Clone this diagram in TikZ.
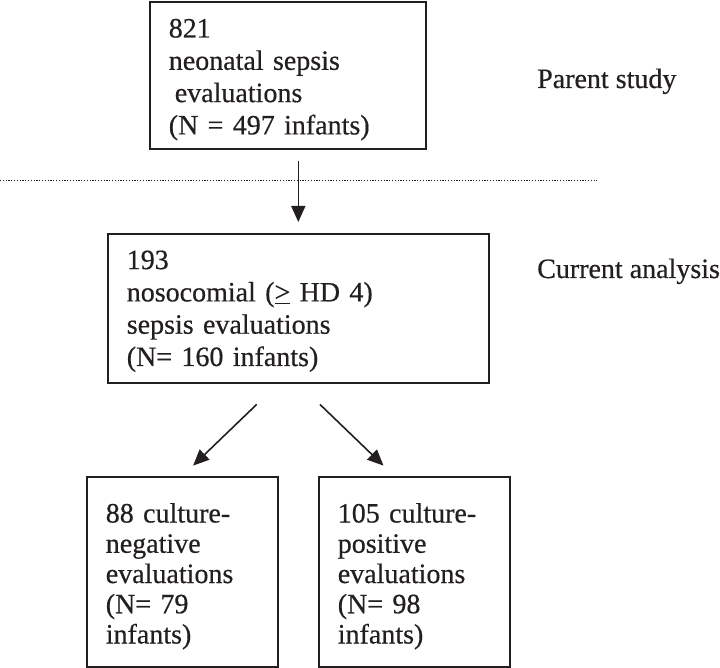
\documentclass[tikz,border=0pt]{standalone}
\usepackage{fontspec}
\setmainfont{Liberation Serif}[FakeBold=0.5]
\usepackage{tikz}
\usetikzlibrary{calc,arrows.meta,positioning}
\definecolor{ink}{HTML}{231F20}

\begin{document}
\begin{tikzpicture}[x=1pt,y=-1pt,
	box/.style={draw=ink,text=ink,line width=1.6pt,anchor=north west,align=left,
		inner xsep=19pt,inner ysep=0pt},
	big/.style={font=\fontsize{28}{32.3}\selectfont},
	small/.style={font=\fontsize{28}{30.25}\selectfont},
	lbl/.style={text=ink,anchor=base west,inner sep=0pt,font=\fontsize{28}{32}\selectfont},
	arr/.style={-{Triangle[length=16pt,width=14pt]},draw=ink,line width=1.6pt}]
\useasboundingbox (0,0) rectangle (720,668);
\node[box,big,text width=238pt,text height=35.7pt,text depth=111.3pt] (A) at (149,1) {821\\neonatal sepsis\\\hspace*{6pt}evaluations\\(N = 497 infants)};
\node[box,big,text width=343pt,text height=35.3pt,text depth=113.7pt] (B) at (107,233) {193\\nosocomial (\underline{>} HD 4)\\sepsis evaluations\\(N= 160 infants)};
\node[box,small,text width=153pt,text height=45.7pt,text depth=144.3pt] (C) at (86,476) {88 culture-\\negative\\evaluations\\(N= 79\\infants)};
\node[box,small,text width=153pt,text height=45.7pt,text depth=144.3pt] (D) at (318,476) {105 culture-\\positive\\evaluations\\(N= 98\\infants)};
\node[lbl] (P) at (537,88) {Parent study};
\node[lbl] (Q) at (537,278) {Current analysis};
\coordinate (L) at (0,181);
\coordinate (R) at (597,181);
\draw[draw=ink,line width=1pt,dash pattern=on 1.2pt off 1.6pt] (L) -- (R);
\draw[arr,shorten <=11pt,shorten >=11pt] (A.south -| B.north) -- (B.north);
\draw[arr,shorten <=30pt,shorten >=15pt] ($(B.south)+(-20,0)$) -- (C.north);
\draw[arr,shorten <=30pt,shorten >=15pt] (B.south) -- ($(D.north)+(-20,0)$);
\end{tikzpicture}
\end{document}
